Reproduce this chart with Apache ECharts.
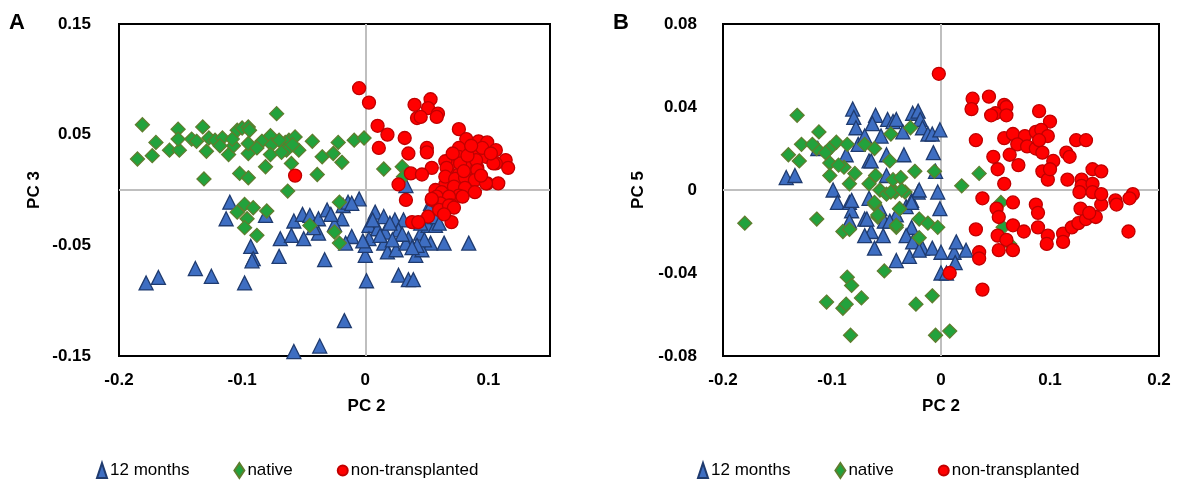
<!DOCTYPE html>
<html>
<head>
<meta charset="utf-8">
<script src="https://cdn.jsdelivr.net/npm/echarts@6/dist/echarts.min.js"></script>
<style>
  html, body { margin: 0; padding: 0; background: #fff; }
  #chart { width: 1178px; height: 484px; }
</style>
</head>
<body>
<div id="chart"></div>
<script>
// Group names shown in both legends
const groups = ['12 months', 'native', 'non-transplanted'];

// Tick labels for each axis
const xTicksA = [-0.2, -0.1, 0, 0.1];
const yTicksA = [-0.15, -0.05, 0.05, 0.15];
const xTicksB = [-0.2, -0.1, 0, 0.1, 0.2];
const yTicksB = [-0.08, -0.04, 0, 0.04, 0.08];

// Panel A: PC 2 vs PC 3 scores
const monthsA = [
  [-0.110,-0.011],[-0.113,-0.026],[-0.081,-0.023],[-0.058,-0.028],[-0.051,-0.022],[-0.045,-0.023],
  [-0.038,-0.026],[-0.031,-0.018],[-0.019,-0.026],[-0.018,-0.014],[-0.014,-0.011],[-0.005,-0.008],
  [-0.011,-0.012],[0.008,-0.020],[0.015,-0.024],[0.024,-0.027],[0.031,-0.027],[0.003,-0.032],
  [0.010,-0.035],[0.016,-0.038],[0.027,-0.036],[0.035,-0.044],[0.045,-0.039],[0.051,-0.032],
  [0.053,-0.048],[0.057,-0.032],[0.053,-0.012],[0.064,-0.048],[0.084,-0.048],[-0.069,-0.044],
  [-0.050,-0.044],[-0.038,-0.039],[-0.011,-0.042],[0.003,-0.044],[0.000,-0.059],[0.000,-0.050],
  [-0.016,-0.048],[0.015,-0.048],[0.018,-0.056],[0.025,-0.054],[0.033,-0.048],[0.041,-0.059],
  [0.046,-0.054],[-0.093,-0.051],[-0.091,-0.062],[-0.092,-0.064],[-0.070,-0.060],[-0.033,-0.063],
  [-0.138,-0.071],[-0.125,-0.078],[-0.168,-0.079],[-0.178,-0.084],[-0.098,-0.084],[0.001,-0.082],
  [0.027,-0.077],[0.035,-0.081],[0.039,-0.081],[-0.017,-0.118],[-0.037,-0.141],[-0.058,-0.146],
  [0.033,0.004],[0.052,-0.017],[0.056,-0.024],[0.060,-0.030],[0.048,-0.045],[0.042,-0.050],
  [0.038,-0.052],[0.030,-0.040],[0.020,-0.030],[-0.025,-0.031],[-0.042,-0.034],[-0.028,-0.022],
  [0.006,-0.027],[-0.002,-0.046],[0.012,-0.041],[0.045,-0.030],[-0.060,-0.041],[0.022,-0.045]
];
const nativeA = [
  [-0.181,0.059],[-0.185,0.028],[-0.173,0.031],[-0.170,0.043],[-0.159,0.036],[-0.152,0.055],
  [-0.151,0.036],[-0.152,0.046],[-0.141,0.046],[-0.137,0.044],[-0.132,0.057],[-0.129,0.035],
  [-0.127,0.047],[-0.122,0.045],[-0.116,0.047],[-0.111,0.032],[-0.107,0.040],[-0.104,0.054],
  [-0.100,0.056],[-0.095,0.057],[-0.094,0.054],[-0.095,0.033],[-0.095,0.042],[-0.084,0.044],
  [-0.077,0.049],[-0.076,0.041],[-0.077,0.032],[-0.081,0.021],[-0.072,0.069],[-0.065,0.043],
  [-0.064,0.036],[-0.062,0.045],[-0.057,0.048],[-0.060,0.024],[-0.054,0.036],[-0.043,0.044],
  [-0.039,0.014],[-0.035,0.030],[-0.026,0.033],[-0.022,0.043],[-0.019,0.025],[-0.009,0.045],
  [-0.001,0.047],[-0.131,0.010],[-0.102,0.015],[-0.095,0.011],[0.015,0.019],[0.030,0.021],
  [0.031,0.012],[-0.063,-0.001],[-0.098,-0.013],[-0.104,-0.020],[-0.091,-0.016],[-0.080,-0.019],
  [-0.096,-0.026],[-0.098,-0.034],[-0.088,-0.041],[-0.021,-0.011],[-0.045,-0.032],[-0.025,-0.038],
  [-0.021,-0.048],[-0.118,0.040],[-0.108,0.046],[-0.088,0.038],[-0.070,0.045],[-0.059,0.041],
  [-0.068,0.034]
];
const nonTransA = [
  [-0.005,0.092],[0.003,0.079],[0.040,0.077],[0.053,0.082],[0.051,0.074],[0.059,0.069],
  [0.042,0.065],[0.045,0.066],[0.058,0.066],[0.010,0.058],[0.018,0.050],[0.032,0.047],
  [0.011,0.038],[0.035,0.033],[0.050,0.038],[0.050,0.034],[0.054,0.020],[0.037,0.015],
  [0.046,0.014],[-0.057,0.013],[0.027,0.005],[0.076,0.055],[0.082,0.046],[0.092,0.044],
  [0.099,0.043],[0.106,0.036],[0.114,0.027],[0.116,0.020],[0.076,0.038],[0.089,0.035],
  [0.098,0.030],[0.106,0.024],[0.076,0.030],[0.068,0.023],[0.084,0.021],[0.091,0.020],
  [0.068,0.015],[0.076,0.014],[0.089,0.012],[0.099,0.006],[0.108,0.006],[0.065,0.005],
  [0.081,0.003],[0.065,0.026],[0.077,0.024],[0.090,0.027],[0.104,0.024],[0.066,0.020],
  [0.091,0.018],[0.065,0.012],[0.073,0.010],[0.081,0.011],[0.089,0.009],[0.098,0.006],
  [0.057,0.000],[0.062,-0.002],[0.072,0.003],[0.081,0.002],[0.076,-0.005],[0.058,-0.006],
  [0.068,-0.006],[0.079,-0.006],[0.061,-0.012],[0.070,-0.014],[0.054,-0.009],[0.033,-0.009],
  [0.038,-0.029],[0.051,-0.024],[0.070,-0.029],[0.043,-0.029],[0.060,-0.018],[0.068,-0.014],
  [0.054,-0.008],[0.089,-0.002],[0.083,0.031],[0.095,0.038],[0.086,0.040],[0.102,0.033],
  [0.071,0.033],[0.080,0.017],[0.094,0.013],[0.072,-0.016],[0.064,-0.022]
];

// Panel B: PC 2 vs PC 5 scores
const monthsB = [
  [-0.081,0.039],[-0.080,0.035],[-0.078,0.030],[-0.060,0.036],[-0.063,0.032],[-0.049,0.034],
  [-0.044,0.033],[-0.041,0.034],[-0.035,0.028],[-0.026,0.037],[-0.021,0.038],[-0.019,0.034],
  [-0.017,0.030],[-0.012,0.027],[-0.008,0.027],[-0.001,0.029],[-0.055,0.026],[-0.050,0.017],
  [-0.066,0.014],[-0.034,0.017],[-0.007,0.018],[-0.005,0.009],[-0.142,0.006],[-0.134,0.007],
  [-0.099,0.000],[-0.095,-0.006],[-0.084,-0.006],[-0.082,-0.010],[-0.084,-0.015],[-0.070,-0.014],
  [-0.064,-0.020],[-0.061,-0.028],[-0.066,-0.004],[-0.056,-0.009],[-0.052,-0.015],[-0.041,-0.012],
  [-0.032,-0.008],[-0.027,-0.005],[-0.021,-0.001],[-0.027,-0.018],[-0.032,-0.022],[-0.026,-0.025],
  [-0.017,-0.028],[-0.008,-0.028],[0.000,-0.030],[-0.003,-0.001],[-0.001,-0.009],[0.012,-0.030],
  [-0.041,-0.034],[-0.029,-0.032],[-0.050,0.007],[-0.082,-0.005],[-0.068,-0.014],[-0.070,-0.022],
  [-0.020,-0.029],[0.000,-0.040],[0.014,-0.025],[0.023,-0.029],[0.013,-0.035],[-0.020,0.000],
  [-0.113,0.020],[-0.087,0.017],[-0.064,0.014],[-0.076,0.022],[-0.070,0.026],[-0.047,-0.015],
  [-0.053,-0.022],[-0.027,-0.006],[0.005,-0.040]
];
const nativeB = [
  [-0.132,0.036],[-0.112,0.028],[-0.128,0.022],[-0.140,0.017],[-0.130,0.014],[-0.114,0.020],
  [-0.102,0.020],[-0.096,0.023],[-0.086,0.022],[-0.102,0.013],[-0.102,0.007],[-0.089,0.011],
  [-0.079,0.008],[-0.070,0.022],[-0.061,0.020],[-0.046,0.027],[-0.028,0.030],[-0.047,0.014],
  [-0.024,0.009],[-0.006,0.009],[0.035,0.008],[0.019,0.002],[-0.084,0.003],[-0.066,0.003],
  [-0.060,0.007],[-0.044,0.005],[-0.037,0.006],[-0.033,-0.001],[-0.042,-0.001],[-0.056,0.000],
  [-0.050,-0.002],[-0.061,-0.007],[-0.038,-0.009],[-0.058,-0.013],[-0.041,-0.018],[-0.020,-0.014],
  [-0.012,-0.016],[-0.003,-0.018],[-0.020,-0.023],[-0.114,-0.014],[-0.090,-0.020],[-0.084,-0.019],
  [-0.086,-0.042],[-0.082,-0.046],[-0.052,-0.039],[-0.105,-0.054],[-0.090,-0.057],[-0.087,-0.055],
  [-0.073,-0.052],[-0.023,-0.055],[-0.008,-0.051],[-0.083,-0.070],[-0.005,-0.070],[0.008,-0.068],
  [0.055,-0.006],[0.057,-0.018],[0.063,-0.026],[-0.180,-0.016],[-0.061,-0.006],[-0.058,-0.012],
  [-0.041,-0.017],[-0.038,-0.009],[-0.046,-0.001],[-0.036,0.000],[-0.118,0.022],[-0.106,0.018],
  [-0.094,0.012]
];
const nonTransB = [
  [-0.002,0.056],[0.029,0.044],[0.028,0.039],[0.044,0.045],[0.058,0.041],[0.060,0.040],
  [0.050,0.037],[0.046,0.036],[0.060,0.036],[0.090,0.038],[0.100,0.033],[0.032,0.024],
  [0.058,0.025],[0.066,0.027],[0.077,0.026],[0.087,0.028],[0.092,0.029],[0.098,0.026],
  [0.070,0.022],[0.079,0.021],[0.087,0.020],[0.093,0.018],[0.090,0.024],[0.124,0.024],
  [0.133,0.024],[0.048,0.016],[0.063,0.017],[0.115,0.018],[0.118,0.016],[0.103,0.014],
  [0.052,0.010],[0.071,0.012],[0.093,0.009],[0.098,0.005],[0.100,0.010],[0.116,0.005],
  [0.139,0.010],[0.147,0.009],[0.058,0.003],[0.129,0.005],[0.129,0.002],[0.139,0.003],
  [0.176,-0.002],[0.173,-0.004],[0.038,-0.004],[0.051,-0.009],[0.053,-0.013],[0.066,-0.006],
  [0.087,-0.007],[0.089,-0.011],[0.066,-0.017],[0.076,-0.020],[0.089,-0.018],[0.098,-0.022],
  [0.097,-0.026],[0.112,-0.021],[0.112,-0.025],[0.120,-0.018],[0.126,-0.016],[0.133,-0.014],
  [0.142,-0.013],[0.128,-0.009],[0.136,-0.011],[0.147,-0.007],[0.160,-0.005],[0.161,-0.007],
  [0.172,-0.020],[0.127,-0.001],[0.139,-0.001],[0.147,-0.002],[0.032,-0.019],[0.052,-0.022],
  [0.060,-0.024],[0.053,-0.029],[0.066,-0.029],[0.035,-0.030],[0.035,-0.033],[0.008,-0.040],
  [0.038,-0.048]
];

const FONT = '"Liberation Sans", Arial, Helvetica, sans-serif';

// Marker look for each group
const markers = {
  '12 months':        { symbol: 'triangle', size: 14, color: '#3E6EC2', border: '#1F3B6F' },
  'native':           { symbol: 'diamond',  size: 14, color: '#22A23C', border: '#5E7D2E' },
  'non-transplanted': { symbol: 'circle',   size: 13, color: '#FF0000', border: '#C00000' }
};

// Show a label only where it is one of the listed ticks
const tickLabel = ticks => v => {
  const t = ticks.find(t => Math.abs(t - v) < 1e-9);
  return t === undefined ? '' : String(t);
};

const labelStyle = { fontFamily: FONT, fontSize: 17, fontWeight: 'bold', color: '#000' };

function xAxis(gridIndex, min, max, step, ticks, namePad) {
  return {
    type: 'value', gridIndex, min, max, interval: step,
    axisLine: { show: false }, axisTick: { show: false }, splitLine: { show: false },
    axisLabel: Object.assign({ margin: 16, formatter: tickLabel(ticks) }, labelStyle),
    name: 'PC 2', nameLocation: 'middle', nameGap: 42,
    nameTextStyle: Object.assign({ padding: namePad }, labelStyle)
  };
}
function yAxis(gridIndex, min, max, step, ticks, name, margin) {
  return {
    type: 'value', gridIndex, min, max, interval: step,
    axisLine: { show: false }, axisTick: { show: false }, splitLine: { show: false },
    axisLabel: Object.assign({ margin, formatter: tickLabel(ticks) }, labelStyle),
    name, nameLocation: 'middle', nameGap: 76,
    nameTextStyle: labelStyle
  };
}

function scatter(name, data, axisIndex, withZeroLines) {
  const m = markers[name];
  const s = {
    name, type: 'scatter', data, xAxisIndex: axisIndex, yAxisIndex: axisIndex,
    symbol: m.symbol, symbolSize: m.size, clip: false, z: 2,
    itemStyle: { color: m.color, borderColor: m.border, borderWidth: 1.3, opacity: 1 },
    emphasis: { disabled: true }
  };
  if (withZeroLines) {
    s.markLine = {
      silent: true, z: 1, symbol: 'none', animation: false,
      label: { show: false },
      lineStyle: { color: '#BFBFBF', width: 2, type: 'solid' },
      data: [{ xAxis: 0 }, { yAxis: 0 }]
    };
  }
  return s;
}

function legend(left) {
  return {
    data: groups, left, top: 457, orient: 'horizontal',
    itemWidth: 10, itemHeight: 15, itemGap: 44, symbolKeepAspect: false,
    selectedMode: false,
    textStyle: { fontFamily: FONT, fontSize: 17, color: '#000', padding: [0, 0, 0, -2] }
  };
}

const chart = echarts.init(document.getElementById('chart'), null, { renderer: 'canvas' });
chart.setOption({
  animation: false,
  backgroundColor: '#fff',
  title: [
    { text: 'A', left: 9, top: 12, padding: 0, textStyle: { fontFamily: FONT, fontSize: 22, fontWeight: 'bold', color: '#000' } },
    { text: 'B', left: 613, top: 12, padding: 0, textStyle: { fontFamily: FONT, fontSize: 22, fontWeight: 'bold', color: '#000' } }
  ],
  legend: [legend(91), legend(692)],
  grid: [
    { left: 119, top: 24, width: 431, height: 332, show: true, borderColor: '#000', borderWidth: 2, backgroundColor: '#fff' },
    { left: 723, top: 24, width: 436, height: 332, show: true, borderColor: '#000', borderWidth: 2, backgroundColor: '#fff' }
  ],
  xAxis: [
    xAxis(0, -0.2, 0.15, 0.05, xTicksA, [0, 0, 0, 64]),
    xAxis(1, xTicksB[0], xTicksB[xTicksB.length - 1], 0.1, xTicksB, 0)
  ],
  yAxis: [
    yAxis(0, yTicksA[0], yTicksA[yTicksA.length - 1], 0.05, yTicksA, 'PC 3', 28),
    yAxis(1, yTicksB[0], yTicksB[yTicksB.length - 1], 0.04, yTicksB, 'PC 5', 26)
  ],
  series: [
    scatter('12 months', monthsA, 0, true),
    scatter('native', nativeA, 0, false),
    scatter('non-transplanted', nonTransA, 0, false),
    scatter('12 months', monthsB, 1, true),
    scatter('native', nativeB, 1, false),
    scatter('non-transplanted', nonTransB, 1, false)
  ]
});
</script>
</body>
</html>
